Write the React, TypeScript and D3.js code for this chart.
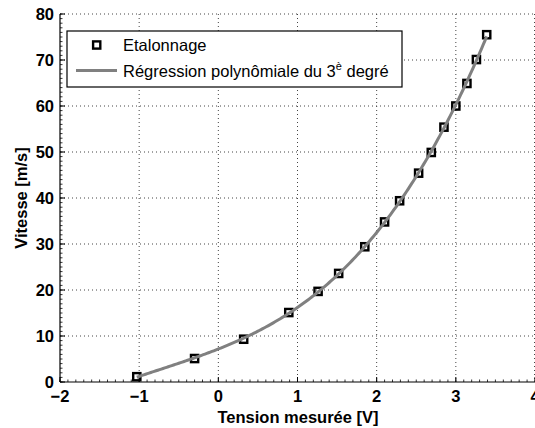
import React from "react";
import * as d3 from "d3";

const tension = [-1.03, -0.3, 0.32, 0.89, 1.26, 1.52, 1.85, 2.1, 2.29, 2.53, 2.69, 2.85, 3.0, 3.14, 3.26, 3.39];
const vitesse = [1.15, 5.1, 9.3, 15.1, 19.7, 23.6, 29.4, 34.8, 39.4, 45.4, 49.9, 55.4, 60.0, 64.9, 70.1, 75.5];
const xTicks = [-2, -1, 0, 1, 2, 3, 4];
const yTicks = [0, 10, 20, 30, 40, 50, 60, 70, 80];
const legendLabels = ["Etalonnage", "Régression polynômiale du 3", "è", " degré"];

// least squares cubic fit of the calibration data
function cubicFit(xs: number[], ys: number[]): number[] {
  const n = 4;
  const A: number[][] = Array.from({ length: n }, () => Array(n + 1).fill(0));
  xs.forEach((x, k) => {
    for (let i = 0; i < n; i++) {
      for (let j = 0; j < n; j++) A[i][j] += Math.pow(x, i + j);
      A[i][n] += Math.pow(x, i) * ys[k];
    }
  });
  for (let c = 0; c < n; c++) {
    let p = c;
    for (let r = c + 1; r < n; r++) if (Math.abs(A[r][c]) > Math.abs(A[p][c])) p = r;
    [A[c], A[p]] = [A[p], A[c]];
    for (let r = 0; r < n; r++) {
      if (r === c) continue;
      const f = A[r][c] / A[c][c];
      for (let k = c; k <= n; k++) A[r][k] -= f * A[c][k];
    }
  }
  return A.map((row, i) => row[n] / row[i]);
}

export default function App() {
  const W = 535, H = 428;
  const x = d3.scaleLinear().domain([-2, 4]).range([60, 535]);
  const y = d3.scaleLinear().domain([0, 80]).range([382, 14]);
  const coef = cubicFit(tension, vitesse);
  const fx = (t: number) => coef[0] + coef[1] * t + coef[2] * t * t + coef[3] * t * t * t;
  const xmin = d3.min(tension)!, xmax = d3.max(tension)!;
  const curve = d3.range(0, 201).map((i) => {
    const t = xmin + ((xmax - xmin) * i) / 200;
    return [t, fx(t)] as [number, number];
  });
  const line = d3.line<[number, number]>().x((d) => x(d[0])).y((d) => y(d[1]));
  const xMinor = d3.range(-2, 4.001, 0.1);
  const yMinor = d3.range(0, 80.001, 1);
  const font = "'Liberation Sans', Arial, Helvetica, sans-serif";
  const gridColor = "#444";

  return (
    <svg width={W} height={H} style={{ position: "absolute", left: 0, top: 0, background: "#fff" }} fontFamily={font}>
      <rect width={W} height={H} fill="#fff" />
      {/* grid */}
      {xTicks.filter((t) => t > -2).map((t) => (
        <line key={"gx" + t} x1={x(t) - (t === 4 ? 0.5 : 0)} x2={x(t) - (t === 4 ? 0.5 : 0)} y1={y(80)} y2={y(0)} stroke={gridColor} strokeWidth={1} strokeDasharray="1 3" />
      ))}
      {yTicks.filter((t) => t > 0).map((t) => (
        <line key={"gy" + t} x1={x(-2)} x2={x(4)} y1={y(t)} y2={y(t)} stroke={gridColor} strokeWidth={1} strokeDasharray="1 3" />
      ))}
      {/* axes */}
      <line x1={x(-2)} x2={x(4)} y1={y(0)} y2={y(0)} stroke="#000" strokeWidth={1.2} />
      <line x1={x(-2)} x2={x(-2)} y1={y(0)} y2={y(80)} stroke="#000" strokeWidth={1.2} />
      {xMinor.map((t, i) => (
        <line key={"xm" + i} x1={x(t)} x2={x(t)} y1={y(0)} y2={y(0) - 2.5} stroke="#000" strokeWidth={0.8} />
      ))}
      {yMinor.map((t, i) => (
        <line key={"ym" + i} x1={x(-2)} x2={x(-2) + 2.5} y1={y(t)} y2={y(t)} stroke="#000" strokeWidth={0.8} />
      ))}
      {xTicks.map((t) => (
        <line key={"xt" + t} x1={x(t)} x2={x(t)} y1={y(0)} y2={y(0) - 5} stroke="#000" strokeWidth={1} />
      ))}
      {yTicks.map((t) => (
        <line key={"yt" + t} x1={x(-2)} x2={x(-2) + 5} y1={y(t)} y2={y(t)} stroke="#000" strokeWidth={1} />
      ))}
      {/* tick labels */}
      {xTicks.map((t) => (
        <text key={"xl" + t} x={x(t)} y={402} textAnchor="middle" fontSize={16.5} fontWeight="bold">
          {t < 0 ? "\u2212" + Math.abs(t) : String(t)}
        </text>
      ))}
      {yTicks.map((t) => (
        <text key={"yl" + t} x={54} y={y(t) + 6} textAnchor="end" fontSize={16.5} fontWeight="bold">
          {t}
        </text>
      ))}
      {/* axis labels */}
      <text x={298} y={423} textAnchor="middle" fontSize={16.5} fontWeight="bold">Tension mesurée [V]</text>
      <text transform={`translate(27,${y(40)}) rotate(-90)`} textAnchor="middle" fontSize={16.5} fontWeight="bold">Vitesse [m/s]</text>
      {/* data markers */}
      {tension.map((t, i) => (
        <rect key={"m" + i} x={x(t) - 3.6} y={y(vitesse[i]) - 3.6} width={7.2} height={7.2} fill="none" stroke="#000" strokeWidth={2.4} />
      ))}
      {/* regression curve */}
      <path d={line(curve) || ""} fill="none" stroke="#808080" strokeWidth={3} />
      {/* legend */}
      <rect x={67} y={31} width={335} height={56} fill="#fff" stroke="#000" strokeWidth={1.2} />
      <rect x={96.7 - 3.6} y={45 - 3.6} width={7.2} height={7.2} fill="none" stroke="#000" strokeWidth={2.4} />
      <text x={123} y={51} fontSize={16.5}>{legendLabels[0]}</text>
      <line x1={76} x2={117} y1={70.5} y2={70.5} stroke="#808080" strokeWidth={3} />
      <text x={123} y={77} fontSize={16.5}>
        {legendLabels[1]}
        <tspan fontSize={11} dy={-7}>{legendLabels[2]}</tspan>
        <tspan dy={7}>{legendLabels[3]}</tspan>
      </text>
    </svg>
  );
}
